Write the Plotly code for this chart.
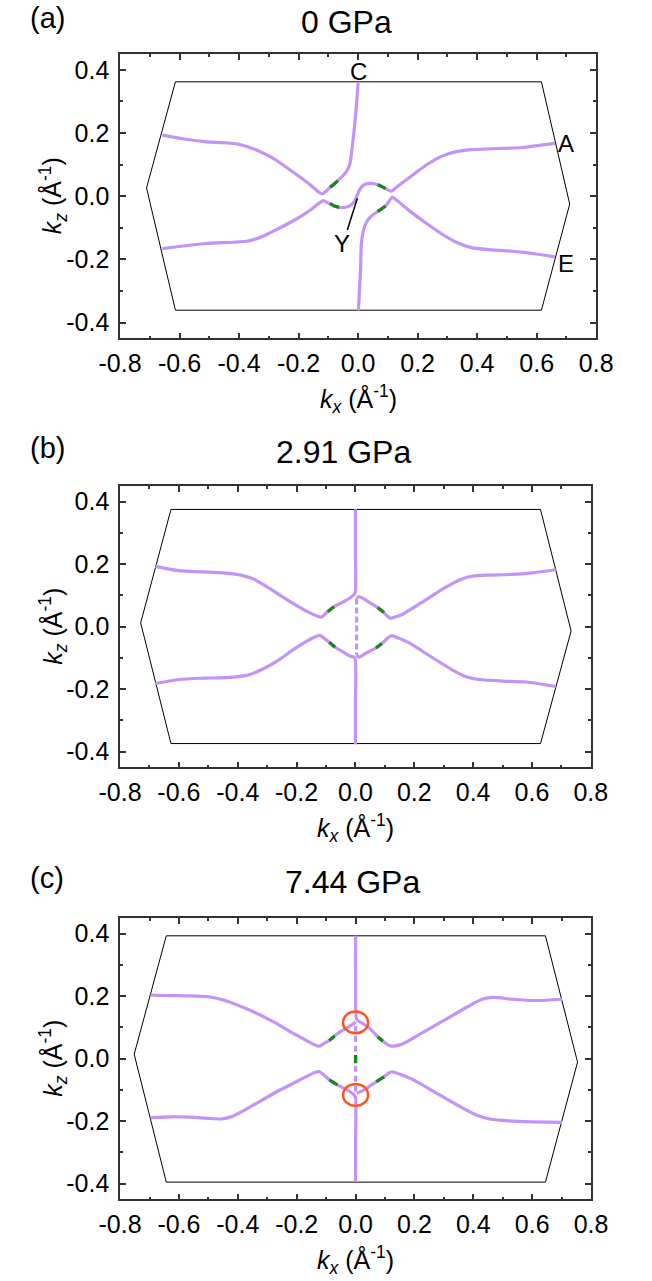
import plotly.graph_objects as go

# ---------------- data ----------------
x_tick_vals = [-0.8, -0.6, -0.4, -0.2, 0.0, 0.2, 0.4, 0.6, 0.8]
x_tick_text = ["-0.8", "-0.6", "-0.4", "-0.2", "0.0", "0.2", "0.4", "0.6", "0.8"]
x_minor_vals = [-0.7, -0.5, -0.3, -0.1, 0.1, 0.3, 0.5, 0.7]
y_tick_vals = [-0.4, -0.2, 0.0, 0.2, 0.4]
y_tick_text = ["-0.4", "-0.2", "0.0", "0.2", "0.4"]
y_minor_vals = [-0.3, -0.1, 0.1, 0.3]

panel_titles = ["0 GPa", "2.91 GPa", "7.44 GPa"]
panel_letters = ["(a)", "(b)", "(c)"]

# Brillouin-zone outlines
hex_a_x = [-0.614, 0.616, 0.711, 0.616, -0.614, -0.711, -0.614]
hex_a_y = [0.362, 0.362, -0.025, -0.361, -0.361, 0.026, 0.362]
hex_b_x = [-0.627, 0.629, 0.733, 0.629, -0.627, -0.730, -0.627]
hex_b_y = [0.375, 0.375, -0.014, -0.374, -0.374, 0.012, 0.375]
hex_c_x = [-0.643, 0.645, 0.754, 0.645, -0.643, -0.752, -0.643]
hex_c_y = [0.393, 0.393, -0.011, -0.395, -0.395, 0.014, 0.393]

# ---- panel (a): 0 GPa ----
a_c_x = [-0.658, -0.58, -0.511, -0.445, -0.40, -0.35, -0.30, -0.2765, -0.213, -0.160, -0.134,
         -0.1207, -0.110, -0.0945, -0.068, -0.0395, -0.029, -0.0237, -0.0183, -0.0133, -0.006, 0.0]
a_c_y = [0.193, 0.180, 0.172, 0.169, 0.164, 0.149, 0.127, 0.1145, 0.0723, 0.0353, 0.014,
         0.0068, 0.014, 0.028, 0.049, 0.0775, 0.0986, 0.125, 0.167, 0.2094, 0.283, 0.362]
a_s_x = [-0.658, -0.511, -0.42, -0.37, -0.32, -0.2765, -0.213, -0.160, -0.129, -0.116, -0.1027,
         -0.0815, -0.0553, -0.029, -0.0133, -0.0025, 0.008, 0.0237, 0.0449, 0.0657, 0.0923,
         0.108, 0.1153, 0.129, 0.1763, 0.229, 0.28, 0.33, 0.38, 0.45, 0.55, 0.661]
a_s_y = [-0.166, -0.150, -0.146, -0.142, -0.127, -0.107, -0.0755, -0.0438, -0.0207, -0.0144, -0.0207,
         -0.031, -0.0365, -0.031, -0.0176, 0.0037, 0.025, 0.0375, 0.0407, 0.0363, 0.0237,
         0.0163, 0.0173, 0.028, 0.0616, 0.0986, 0.126, 0.141, 0.147, 0.150, 0.154, 0.167]
a_e_x = [0.001, 0.008, 0.011, 0.0183, 0.029, 0.0449, 0.0657, 0.0923, 0.1027, 0.1153,
         0.129, 0.1763, 0.229, 0.28, 0.33, 0.38, 0.45, 0.55, 0.661]
a_e_y = [-0.362, -0.2338, -0.149, -0.107, -0.0809, -0.0628, -0.049, -0.031, -0.0176, -0.0037,
         -0.0122, -0.049, -0.086, -0.119, -0.146, -0.163, -0.170, -0.177, -0.192]
a_green_x = [[-0.0945, -0.081, -0.068], [-0.0945, -0.08, -0.0638],
             [0.0657, 0.079, 0.0923], [0.0657, 0.079, 0.0923]]
a_green_y = [[0.028, 0.038, 0.049], [-0.0226, -0.031, -0.0353],
             [0.0363, 0.031, 0.0237], [-0.049, -0.040, -0.031]]
a_labels = ["C", "A", "E", "Y"]
a_label_x = [0.0, 0.700, 0.700, -0.054]
a_label_y = [0.394, 0.167, -0.213, -0.150]
a_pointer_x = [-0.0025, -0.0363]
a_pointer_y = [-0.0068, -0.107]

# ---- panel (b): 2.91 GPa ----
b_ul_x = [0.0, 0.0, 0.0, -0.004, -0.015, -0.04, -0.073, -0.0946, -0.108, -0.116, -0.124,
          -0.155, -0.215, -0.295, -0.345, -0.39, -0.45, -0.52, -0.60, -0.680]
b_ul_y = [0.376, 0.25, 0.115, 0.103, 0.094, 0.080, 0.064, 0.048, 0.036, 0.030, 0.032,
          0.044, 0.076, 0.124, 0.152, 0.165, 0.172, 0.175, 0.179, 0.193]
b_ll_x = [0.0, 0.0, 0.0, -0.005, -0.016, -0.04, -0.069, -0.089, -0.108, -0.120, -0.130,
          -0.149, -0.202, -0.268, -0.32, -0.37, -0.44, -0.52, -0.60, -0.680]
b_ll_y = [-0.376, -0.25, -0.108, -0.097, -0.095, -0.082, -0.066, -0.050, -0.036, -0.028, -0.030,
          -0.038, -0.068, -0.111, -0.138, -0.156, -0.163, -0.165, -0.169, -0.182]
b_ur_x = [0.681, 0.60, 0.53, 0.45, 0.40, 0.36, 0.303, 0.223, 0.157, 0.128, 0.1185, 0.108,
          0.097, 0.0757, 0.04, 0.012, 0.004]
b_ur_y = [0.182, 0.172, 0.167, 0.165, 0.162, 0.152, 0.124, 0.076, 0.038, 0.029, 0.027, 0.034,
          0.045, 0.061, 0.082, 0.096, 0.090]
b_lr_x = [0.004, 0.012, 0.037, 0.070, 0.090, 0.110, 0.124, 0.135, 0.183, 0.263, 0.329,
          0.375, 0.43, 0.50, 0.58, 0.681]
b_lr_y = [-0.090, -0.098, -0.084, -0.068, -0.054, -0.036, -0.029, -0.032, -0.052, -0.100, -0.138,
          -0.160, -0.170, -0.174, -0.177, -0.191]
b_mid_x = [0.004, 0.004]
b_mid_y = [0.090, -0.090]
b_green_x = [[-0.0946, -0.084, -0.073], [-0.089, -0.079, -0.069],
             [0.0757, 0.086, 0.097], [0.070, 0.080, 0.090]]
b_green_y = [[0.048, 0.056, 0.064], [-0.050, -0.058, -0.066],
             [0.061, 0.053, 0.045], [-0.068, -0.061, -0.054]]

# ---- panel (c): 7.44 GPa ----
c_ul_x = [-0.696, -0.653, -0.56, -0.50, -0.45, -0.40, -0.361, -0.282, -0.202, -0.149, -0.130,
          -0.122, -0.110, -0.090, -0.071, -0.042, -0.026, -0.0047, 0.0]
c_ul_y = [0.203, 0.202, 0.201, 0.198, 0.188, 0.171, 0.156, 0.119, 0.076, 0.049, 0.041,
          0.040, 0.047, 0.058, 0.073, 0.092, 0.100, 0.113, 0.118]
c_ur_x = [0.0, 0.0, 0.004, 0.02, 0.038, 0.060, 0.075, 0.093, 0.110, 0.123, 0.135, 0.157,
          0.223, 0.303, 0.38, 0.43, 0.47, 0.53, 0.62, 0.701]
c_ur_y = [0.393, 0.25, 0.125, 0.115, 0.104, 0.086, 0.070, 0.056, 0.044, 0.040, 0.041, 0.046,
          0.081, 0.124, 0.166, 0.190, 0.196, 0.190, 0.186, 0.190]
c_ll_x = [-0.696, -0.627, -0.56, -0.50, -0.455, -0.42, -0.348, -0.268, -0.189, -0.140, -0.122,
          -0.110, -0.089, -0.062, -0.029, -0.005, 0.0, 0.0, 0.0]
c_ll_y = [-0.189, -0.186, -0.187, -0.191, -0.193, -0.185, -0.149, -0.106, -0.068, -0.045, -0.042,
          -0.050, -0.068, -0.084, -0.100, -0.116, -0.125, -0.25, -0.395]
c_lr_x = [0.004, 0.020, 0.037, 0.070, 0.097, 0.112, 0.124, 0.136, 0.197, 0.276, 0.356,
          0.41, 0.46, 0.52, 0.60, 0.701]
c_lr_y = [-0.111, -0.104, -0.095, -0.074, -0.058, -0.046, -0.042, -0.045, -0.068, -0.111, -0.154,
          -0.180, -0.194, -0.199, -0.202, -0.204]
c_mid_x = [0.0, 0.0]
c_mid_y = [0.105, -0.105]
c_green_x = [[-0.090, -0.080, -0.071], [0.075, 0.084, 0.093],
             [-0.089, -0.075, -0.062], [0.070, 0.083, 0.097], [0.0, 0.0]]
c_green_y = [[0.058, 0.065, 0.073], [0.070, 0.063, 0.056],
             [-0.068, -0.076, -0.084], [-0.074, -0.066, -0.058], [0.0115, -0.015]]
c_circle_x = [0.0, 0.0]
c_circle_y = [0.116, -0.116]
c_circle_rx = 0.0425
c_circle_ry = 0.035

# ---------------- style ----------------
PURPLE = "#c393f7"
GREEN = "#138a13"
ORANGE = "#fb5520"
FONT = "Liberation Sans"
AX = "#333333"
TICK_FS = 25
AXT_FS = 25
TITLE_FS = 32
LETTER_FS = 29
LABEL_FS = 24

W, H = 652, 1281
# pixel boxes (left, right, top, bottom)
boxes = [(104.3, 610.7, 54.0, 338.3), (104.3, 605.0, 486.0, 767.3), (104.3, 605.3, 918.0, 1199.3)]

fig = go.Figure()

def add_line(i, xs, ys, color=PURPLE, width=3.2, dash="solid", shape="spline"):
    sfx = "" if i == 0 else str(i + 1)
    fig.add_trace(go.Scatter(x=xs, y=ys, mode="lines", xaxis="x" + sfx, yaxis="y" + sfx,
                             line=dict(color=color, width=width, dash=dash, shape=shape,
                                       smoothing=0.6),
                             showlegend=False, hoverinfo="skip"))

hexes = [(hex_a_x, hex_a_y), (hex_b_x, hex_b_y), (hex_c_x, hex_c_y)]
for i, (hx, hy) in enumerate(hexes):
    add_line(i, hx, hy, color="black", width=1, shape="linear")

# panel a
add_line(0, a_c_x, a_c_y)
add_line(0, a_s_x, a_s_y)
add_line(0, a_e_x, a_e_y)
for gx, gy in zip(a_green_x, a_green_y):
    add_line(0, gx, gy, color=GREEN)
add_line(0, a_pointer_x, a_pointer_y, color="black", width=1.5, shape="linear")

# panel b
add_line(1, b_ul_x, b_ul_y)
add_line(1, b_ll_x, b_ll_y)
add_line(1, b_ur_x, b_ur_y)
add_line(1, b_lr_x, b_lr_y)
add_line(1, b_mid_x, b_mid_y, dash="6px,3px", shape="linear")
for gx, gy in zip(b_green_x, b_green_y):
    add_line(1, gx, gy, color=GREEN)

# panel c
add_line(2, c_ul_x, c_ul_y)
add_line(2, c_ur_x, c_ur_y)
add_line(2, c_ll_x, c_ll_y)
add_line(2, c_lr_x, c_lr_y)
add_line(2, c_mid_x, c_mid_y, dash="6px,4px", shape="linear")
for gx, gy in zip(c_green_x, c_green_y):
    add_line(2, gx, gy, color=GREEN)

layout = dict(width=W, height=H, margin=dict(l=0, r=0, t=0, b=0),
              paper_bgcolor="white", plot_bgcolor="white", showlegend=False,
              font=dict(family=FONT, color="black"))

annotations = []
shapes = []
title_x_px = [345, 342, 352]
title_y_px = [22, 452, 882]
letter_y_px = [18, 448, 878]
for i, (l, r, t, b) in enumerate(boxes):
    sfx = "" if i == 0 else str(i + 1)
    common = dict(showline=True, linecolor=AX, linewidth=1.5, mirror="ticks",
                  ticks="inside", ticklen=6, tickwidth=1.5, tickcolor=AX,
                  showgrid=False, zeroline=False,
                  tickfont=dict(size=TICK_FS, family=FONT, color="black"))
    layout["xaxis" + sfx] = dict(common, domain=[l / W, r / W], range=[-0.8, 0.8],
                                 anchor="y" + sfx, tickmode="array",
                                 tickvals=x_tick_vals, ticktext=x_tick_text,
                                 ticklabelstandoff=2,
                                 minor=dict(tickvals=x_minor_vals, ticks="inside", ticklen=3,
                                            tickwidth=1.5, tickcolor=AX))
    layout["yaxis" + sfx] = dict(common, domain=[1 - b / H, 1 - t / H], range=[-0.45, 0.45],
                                 anchor="x" + sfx, tickmode="array",
                                 tickvals=y_tick_vals, ticktext=y_tick_text,
                                 ticklabelstandoff=4,
                                 minor=dict(tickvals=y_minor_vals, ticks="inside", ticklen=3,
                                            tickwidth=1.5, tickcolor=AX))
    # axis titles
    annotations.append(dict(xref="paper", yref="paper", x=(l + r) / 2 / W, y=1 - (b + 61) / H,
                            text="<i>k</i><sub><i>x</i></sub> (Å<sup>-1</sup>)",
                            showarrow=False, font=dict(size=AXT_FS, family=FONT),
                            xanchor="center", yanchor="middle"))
    annotations.append(dict(xref="paper", yref="paper", x=33 / W, y=1 - (t + b) / 2 / H,
                            text="<i>k</i><sub><i>z</i></sub> (Å<sup>-1</sup>)", textangle=-90,
                            showarrow=False, font=dict(size=AXT_FS, family=FONT),
                            xanchor="center", yanchor="middle"))
    annotations.append(dict(xref="paper", yref="paper", x=title_x_px[i] / W, y=1 - title_y_px[i] / H,
                            text=panel_titles[i], showarrow=False,
                            font=dict(size=TITLE_FS, family=FONT), xanchor="center", yanchor="middle"))
    annotations.append(dict(xref="paper", yref="paper", x=6 / W, y=1 - letter_y_px[i] / H,
                            text=panel_letters[i], showarrow=False,
                            font=dict(size=LETTER_FS, family=FONT), xanchor="left", yanchor="middle"))

for lab, lx, ly in zip(a_labels, a_label_x, a_label_y):
    annotations.append(dict(xref="x", yref="y", x=lx, y=ly, text=lab, showarrow=False,
                            font=dict(size=LABEL_FS, family=FONT), xanchor="center", yanchor="middle"))

for cx, cy in zip(c_circle_x, c_circle_y):
    shapes.append(dict(type="circle", xref="x3", yref="y3",
                       x0=cx - c_circle_rx, x1=cx + c_circle_rx,
                       y0=cy - c_circle_ry, y1=cy + c_circle_ry,
                       line=dict(color=ORANGE, width=2.5)))

layout["annotations"] = annotations
layout["shapes"] = shapes
fig.update_layout(**layout)
fig.write_html("out.html")
